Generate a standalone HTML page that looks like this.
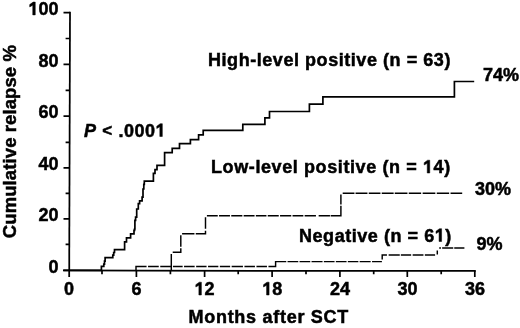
<!DOCTYPE html>
<html><head><meta charset="utf-8"><style>
html,body{margin:0;padding:0;background:#fff;width:520px;height:328px;overflow:hidden}
svg{display:block;filter:blur(0.35px)}
text{font-family:"Liberation Sans",sans-serif;font-weight:bold;font-size:18px;fill:#000;stroke:#000;stroke-width:0.5px}
.h{fill:none;stroke:none}
</style></head><body>
<svg width="520" height="328" viewBox="0 0 520 328">
<g stroke="#000" fill="none" stroke-width="1.75">
<path d="M70 11.8 L69.2 277" />
<path d="M63 270.3 L140 270.7 L475.8 270.95" />
<path stroke-width="1.7" d="M63.5 12.7 H70.0 M65.6 38.5 H69.9 M63.5 64.4 H69.8 M65.6 90.4 H69.8 M63.5 116.2 H69.7 M65.6 142.3 H69.6 M63.5 167.8 H69.5 M65.6 193.4 H69.4 M63.5 218.9 H69.4 M65.6 244.4 H69.3 M63.5 270.3 H69.2"/>
<path stroke-width="1.7" d="M102 270.3 V274.2 M136.4 270.3 V277 M170.4 270.4 V274.2 M204.6 270.4 V277 M238.2 270.5 V274.2 M272.1 270.6 V277 M306 270.6 V274.2 M339.9 270.7 V277 M373.7 270.7 V274.2 M407.3 270.8 V277 M441.2 270.8 V274.2 M474.8 270.9 V277"/>
</g>
<g stroke="#000" fill="none" stroke-width="1.7">
<path d="M69.2 270.4 H101.4 V266.4 H103.8 V264.1 H104.5 V261.1 H105.1 V257.7 H112.8 V255.1 H113.7 V252.5 H114.5 V249.6 H124.6 V241.8 H126.5 V237.9 H130.6 V233.8 H134 V230.3 H134.6 V229 H134.9 V220.3 H135.6 V217.1 H136.7 V209 H138.3 V203.6 H139.6 V200.8 H142.1 V197.2 H143 V189 H143.8 V184.4 H144.3 V181.2 H153.4 V173.3 H155 V169.7 H157 V165.3 H164.6 V152.6 H172.2 V148.4 H179.5 V143.6 H190.4 V139.6 H198.6 V134.9 H203.2 V130.3 H242.8 V124.4 H264.9 V117.9 H269.5 V111.5 H309.4 V104.2 H322.9 V96.8 H454.4 V81.5 H474.2"/>
</g>
<g stroke="#000" fill="none" stroke-width="1.45">
<path d="M171.30 270.60 L171.30 253.90 M172.70 252.20 L180.80 252.20 L180.80 248.35 M180.80 246.75 L180.80 235.30 M182.10 233.70 L194.45 233.70 M195.75 233.70 L205.50 233.70 L205.50 230.65 M205.50 228.65 L205.50 217.30 M206.90 215.80 L217.75 215.80 M219.05 215.80 L229.95 215.80 M231.25 215.80 L242.35 215.80 M243.65 215.80 L254.55 215.80 M255.85 215.80 L266.45 215.80 M267.75 215.80 L278.75 215.80 M280.05 215.80 L291.25 215.80 M292.55 215.80 L303.35 215.80 M304.65 215.80 L315.95 215.80 M318.65 215.80 L329.95 215.80 M330.65 215.80 L340.90 215.80 L340.90 205.75 M340.90 204.45 L340.90 194.60 M342.70 193.20 L354.45 193.20 M355.55 193.20 L367.45 193.20 M368.75 193.20 L380.45 193.20 M381.75 193.20 L393.65 193.20 M394.75 193.20 L407.45 193.20 M408.75 193.20 L421.15 193.20 M422.65 193.20 L435.35 193.20 M436.75 193.20 L449.15 193.20 M450.55 193.20 L462.20 193.20"/>
<path d="M136.00 270.60 L136.00 266.45 L146.55 266.45 M148.05 266.45 L158.75 266.45 M160.25 266.45 L171.45 266.45 M172.95 266.45 L182.65 266.45 M184.05 266.45 L194.65 266.45 M196.15 266.45 L206.55 266.45 M208.05 266.45 L218.35 266.45 M219.85 266.45 L230.15 266.45 M231.65 266.45 L242.95 266.45 M244.45 266.45 L254.95 266.45 M256.45 266.45 L266.95 266.45 M268.45 266.45 L275.60 266.45 L275.60 261.60 L286.25 261.60 M287.55 261.60 L298.25 261.60 M299.55 261.60 L310.25 261.60 M311.55 261.60 L322.55 261.60 M323.85 261.60 L334.55 261.60 M335.85 261.60 L346.55 261.60 M347.85 261.60 L358.35 261.60 M359.65 261.60 L370.65 261.60 M372.05 261.60 L381.90 261.60 M382.20 259.50 L382.20 255.00 L386.95 255.00 M388.65 255.00 L399.75 255.00 M400.85 255.00 L411.15 255.00 M412.65 255.00 L423.45 255.00 M424.85 255.00 L435.10 255.00 M437.30 254.60 L437.30 250.55 M439.20 248.00 L440.95 248.00 M442.15 248.00 L453.25 248.00 M454.25 248.00 L464.40 248.00"/>
</g>
<!-- y labels -->
<g text-anchor="end">
<text x="58.5" y="14.9"><tspan class="h">1</tspan>00</text>
<text x="58.5" y="66.6">80</text>
<text x="58.5" y="118.4">60</text>
<text x="58.5" y="170.0">40</text>
<text x="58.5" y="221.1">20</text>
<text x="58.5" y="272.5">0</text>
</g>
<!-- x labels -->
<g text-anchor="middle">
<text x="69.1" y="295">0</text>
<text x="136.6" y="295">6</text>
<text x="204.6" y="295"><tspan class="h">1</tspan>2</text>
<text x="272.3" y="295"><tspan class="h">1</tspan>8</text>
<text x="339.9" y="295">24</text>
<text x="407.5" y="295">30</text>
<text x="475.0" y="295">36</text>
</g>
<text x="208" y="66" letter-spacing="0.55">High-level positive (n = 63)</text>
<text x="483" y="81">74%</text>
<text x="84" y="136.5" font-style="italic">P</text><text x="102.2" y="136.2" style="font-size:17px">&lt;</text><text x="118.5" y="136.5" letter-spacing="0.5">.000<tspan class="h">1</tspan></text>
<text x="211" y="173" letter-spacing="0.6">Low-level positive (n = <tspan class="h">1</tspan>4)</text>
<text x="475" y="194.8">30%</text>
<text x="299" y="241.5" letter-spacing="0.55">Negative (n = 6<tspan class="h">1</tspan>)</text>
<text x="476.5" y="249.6">9%</text>
<text x="188.5" y="322.8" letter-spacing="0.72">Months after SCT</text>
<text transform="translate(16 238.2) rotate(-90)" style="font-size:18.5px" letter-spacing="0.1">Cumulative relapse %</text>
<path fill="#000" stroke="#000" stroke-width="0.5" stroke-linejoin="round" d="M35.25 14.90 L35.25 2.10 L33.15 2.10 L29.69 4.60 L29.69 6.90 L32.75 5.20 L32.75 14.90 Z M201.38 295.00 L201.38 282.20 L199.28 282.20 L195.82 284.70 L195.82 287.00 L198.88 285.30 L198.88 295.00 Z M269.08 295.00 L269.08 282.20 L266.98 282.20 L263.52 284.70 L263.52 287.00 L266.58 285.30 L266.58 295.00 Z M162.32 136.50 L162.32 123.70 L160.22 123.70 L156.76 126.20 L156.76 128.50 L159.82 126.80 L159.82 136.50 Z M429.74 173.00 L429.74 160.20 L427.64 160.20 L424.18 162.70 L424.18 165.00 L427.24 163.30 L427.24 173.00 Z M441.58 241.50 L441.58 228.70 L439.48 228.70 L436.02 231.20 L436.02 233.50 L439.08 231.80 L439.08 241.50 Z"/>
</svg>
</body></html>
